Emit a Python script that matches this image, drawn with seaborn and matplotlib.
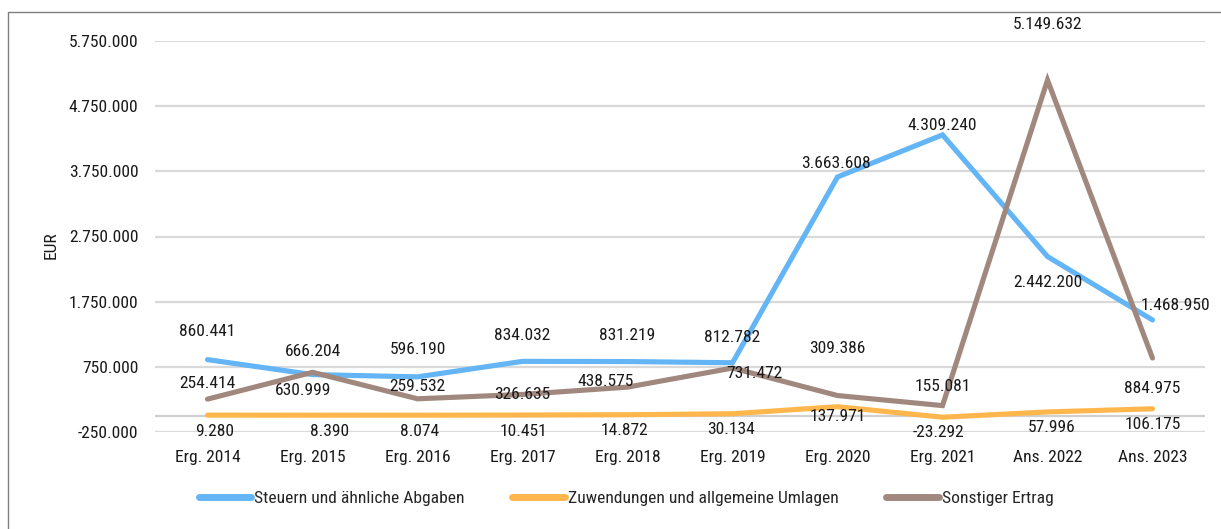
import matplotlib
matplotlib.use("Agg")
import matplotlib.pyplot as plt
import seaborn as sns
import pandas as pd
from matplotlib.patches import Rectangle

categories = ["Erg. 2014", "Erg. 2015", "Erg. 2016", "Erg. 2017", "Erg. 2018",
              "Erg. 2019", "Erg. 2020", "Erg. 2021", "Ans. 2022", "Ans. 2023"]
steuern = [860441, 630999, 596190, 834032, 831219, 812782, 3663608, 4309240, 2442200, 1468950]
zuwendungen = [9280, 8390, 8074, 10451, 14872, 30134, 137971, -23292, 57996, 106175]
sonstiger = [254414, 666204, 259532, 326635, 438575, 731472, 309386, 155081, 5149632, 884975]
series_names = ["Steuern und ähnliche Abgaben", "Zuwendungen und allgemeine Umlagen", "Sonstiger Ertrag"]
y_ticks = [-250000, 750000, 1750000, 2750000, 3750000, 4750000, 5750000]

colors = ["#64B5F6", "#FFB74D", "#A1887F"]

# label offsets in pixels (dx, dy; dy positive = up)
off_steuern = [(0, 28), (-9, -16), (0, 27), (0, 26), (0, 26), (0, 25), (-2, 13), (0, 9), (0, -26), (23, 14)]
off_zuw = [(7, -16), (17, -16), (2, -16), (1, -16), (-3, -16), (-1, -16), (0, -10), (-4, -15), (4, -16), (0, -16)]
off_sonst = [(0, 16), (0, 21), (0, 12), (0, 0), (-22, 6), (22, -5), (0, 47), (0, 19), (0, 56), (0, -30)]

sns.set_theme(style="white")
plt.rcParams['font.family'] = ['Roboto Condensed', 'Liberation Sans', 'DejaVu Sans']
FS = 12.6
TXT = "#1a1a1a"

rows = []
for name, vals in zip(series_names, [steuern, zuwendungen, sonstiger]):
    for c, v in zip(categories, vals):
        rows.append({"Kategorie": c, "Wert": v, "Serie": name})
df = pd.DataFrame(rows)

fig = plt.figure(figsize=(12.21, 5.29), dpi=100)
ax = fig.add_axes([155/1221, (529-432)/529, 1050/1221, 391/529])

for yt in y_ticks:
    ax.axhline(yt, color="#D9D9D9", lw=1.6, zorder=0)
ax.axhline(0, color="#D0D0D0", lw=1.6, zorder=0)

sns.lineplot(data=df, x="Kategorie", y="Wert", hue="Serie", hue_order=series_names,
             palette=colors, linewidth=3.7, sort=False, ax=ax, legend=True,
             solid_capstyle="round", solid_joinstyle="miter")

ax.set_xlim(-0.5, len(categories) - 0.5)
ax.set_ylim(-250000, 5750000)
ax.set_yticks(y_ticks)
ax.set_yticklabels([f"{t:,}".replace(",", ".") for t in y_ticks], fontsize=FS, color=TXT)
ax.set_xticks(range(len(categories)))
ax.set_xticklabels(categories, fontsize=FS, color=TXT)
ax.tick_params(axis="y", length=0, pad=12)
ax.tick_params(axis="x", length=0, pad=13)
ax.set_xlabel("")
ax.set_ylabel("EUR", fontsize=FS, color=TXT)
ax.yaxis.set_label_coords(-0.092, 0.478)
for s in ax.spines.values():
    s.set_visible(False)

def fmt(v):
    return f"{v:,}".replace(",", ".")

for vals, offs in [(steuern, off_steuern), (zuwendungen, off_zuw), (sonstiger, off_sonst)]:
    for i, (v, (dx, dy)) in enumerate(zip(vals, offs)):
        ax.annotate(fmt(v), (i, v), xytext=(dx * 0.72, dy * 0.72), textcoords="offset points",
                    ha="center", va="center", fontsize=FS, color=TXT, zorder=5)

handles, labels = ax.get_legend_handles_labels()
ax.get_legend().remove()
for h in handles:
    h.set_linewidth(5)
    h.set_solid_capstyle("round")
fig.legend(handles, labels, loc="center", bbox_to_anchor=(626/1221, (529-498)/529), ncol=3,
           frameon=False, fontsize=FS, handlelength=3.0, handletextpad=0.15, columnspacing=2.75)

fig.patches.append(Rectangle((8/1221, -0.1), 1.2, (529-12)/529 + 0.1, transform=fig.transFigure,
                             fill=False, edgecolor="#7f7f7f", linewidth=1.0))

fig.savefig("out.png", dpi=100)
